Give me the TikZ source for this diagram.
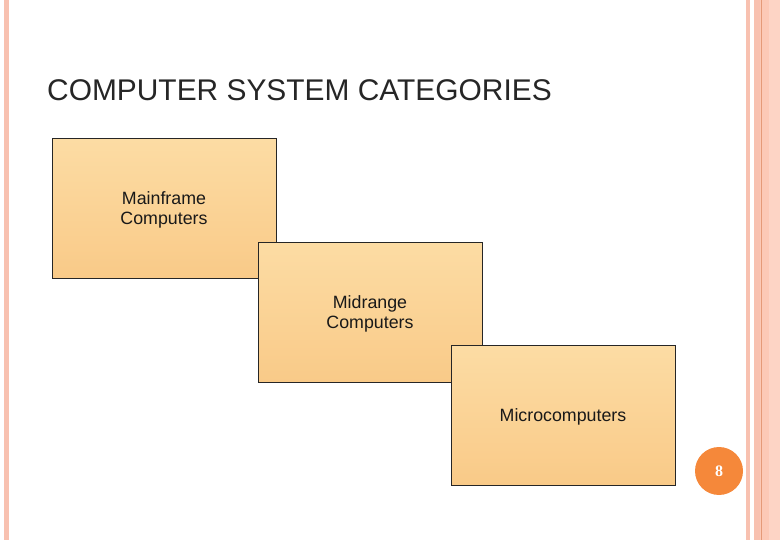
\documentclass[tikz,border=0pt]{standalone}
\usepackage{fontspec}
\setmainfont{Liberation Sans}
\newfontfamily\numfont{Liberation Serif}
\definecolor{stripe}{HTML}{F8C1B0}
\definecolor{band}{HTML}{FCC9B6}
\definecolor{bandline}{HTML}{E59A78}
\definecolor{boxtop}{HTML}{FCDCA4}
\definecolor{boxbot}{HTML}{F9CA88}
\definecolor{badge}{HTML}{F5883A}
\begin{document}
\begin{tikzpicture}[x=1pt,y=-1pt,
  catbox/.style={draw=black!85,line width=0.8pt,top color=boxtop,bottom color=boxbot,minimum width=224pt,minimum height=140pt,anchor=north west,inner sep=0pt},
  cattext/.style={align=center,inner sep=0pt,font=\fontsize{17.8}{20.5}\selectfont,text=black!90},
]
\useasboundingbox (0,0) rectangle (780,540);
% decorative stripes
\fill[stripe] (4,0) rectangle (9,540);
\fill[stripe] (746,0) rectangle (750,540);
\fill[band] (754,0) rectangle (780,540);
\fill[stripe] (754,0) rectangle (760,540);
\draw[bandline,line width=0.8pt] (761,0) -- (761,540);
\fill[band!80!white] (769,0) rectangle (780,540);
% title
\node[anchor=base west,inner sep=0pt,font=\fontsize{29.9}{32}\selectfont,text=black!85] (title) at (47,101) {COMPUTER SYSTEM CATEGORIES};
% boxes
\node[catbox] (main) at (52,138) {};
\node[cattext] (maint) at (164,210) {Mainframe\\Computers};
\node[catbox] (mid) at (258,242) {};
\node[cattext] (midt) at (370,314) {Midrange\\Computers};
\node[catbox] (micro) at (451,345) {};
\node[cattext] (microt) at (563,417) {Microcomputers};
% page badge
\node[circle,fill=badge,minimum size=48pt,inner sep=0pt,text=white,font=\numfont\bfseries\fontsize{16}{17}\selectfont] (page) at (719,471) {8};
\end{tikzpicture}
\end{document}
